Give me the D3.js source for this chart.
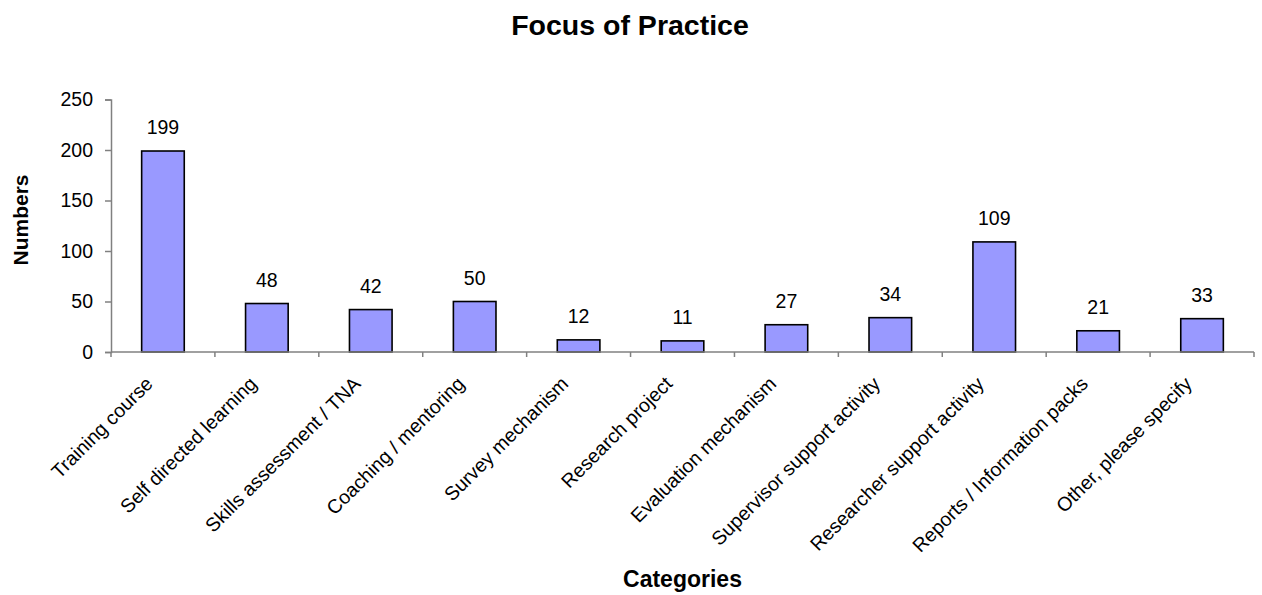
<!DOCTYPE html>
<html>
<head>
<meta charset="utf-8">
<script src="https://cdn.jsdelivr.net/npm/d3@7"></script>
<style>
  body { margin: 0; background: #fff; }
  text { font-family: "Liberation Sans", Arial, sans-serif; fill: #000; }
</style>
</head>
<body>
<div id="chart"></div>
<script>
"use strict";

var categories = ["Training course", "Self directed learning", "Skills assessment / TNA",
    "Coaching / mentoring", "Survey mechanism", "Research project", "Evaluation mechanism",
    "Supervisor support activity", "Researcher support activity", "Reports / Information packs",
    "Other, please specify"];
var values = [199, 48, 42, 50, 12, 11, 27, 34, 109, 21, 33];
var yTicks = [0, 50, 100, 150, 200, 250];

var width = 1262;
var height = 595;
var margin = { left: 111, right: 8, top: 99.5, bottom: 243 };
var fontSize = "19.5px";

var svg = d3.select("#chart").append("svg").attr("width", width).attr("height", height);

var x = d3.scaleBand().domain(categories).range([margin.left, width - margin.right]).padding(0);
var y = d3.scaleLinear().domain([0, 250]).range([height - margin.bottom, margin.top]);
var barWidth = x.bandwidth() * 0.41;

//bars
svg.selectAll("rect.bar").data(values).enter().append("rect").attr("class", "bar")
    .attr("x", function (d, i) { return x(categories[i]) + x.bandwidth() / 2 - barWidth / 2; })
    .attr("y", function (d) { return y(d); })
    .attr("width", barWidth)
    .attr("height", function (d) { return y(0) - y(d); })
    .style("fill", "#9999FF").style("stroke", "#000").style("stroke-width", 1.6);

//value labels
svg.selectAll("text.val").data(values).enter().append("text").attr("class", "val")
    .attr("x", function (d, i) { return x(categories[i]) + x.bandwidth() / 2; })
    .attr("y", function (d) { return y(d) - 17; })
    .attr("text-anchor", "middle").style("font-size", fontSize)
    .text(function (d) { return d; });

//y axis
var yAxis = svg.append("g").attr("transform", "translate(" + margin.left + ",0)")
    .call(d3.axisLeft(y).tickValues(yTicks).tickSize(6).tickPadding(12));
yAxis.selectAll("text").style("font-size", fontSize).style("font-family", "Liberation Sans, Arial, sans-serif");

//x axis: ticks on category boundaries
var xAxis = svg.append("g").attr("transform", "translate(0," + y(0) + ")");
xAxis.append("line").attr("x1", margin.left).attr("x2", width - margin.right);
var bounds = categories.map(function (c) { return x(c); }).concat([width - margin.right]);
xAxis.selectAll("line.tick").data(bounds).enter().append("line").attr("class", "tick")
    .attr("x1", function (d) { return d; }).attr("x2", function (d) { return d; })
    .attr("y1", 0).attr("y2", 5);
xAxis.selectAll("text").data(categories).enter().append("text")
    .attr("transform", function (d) {
        return "translate(" + (x(d) + x.bandwidth() / 2 - 9) + ",33) rotate(-45)";
    })
    .attr("text-anchor", "end").style("font-size", fontSize)
    .text(function (d) { return d; });

svg.selectAll(".domain, g line").style("stroke", "#808080").style("stroke-width", 1.5);

//titles
svg.append("text").attr("x", 630).attr("y", 35).attr("text-anchor", "middle")
    .style("font-size", "28.5px").style("font-weight", "bold").text("Focus of Practice");
svg.append("text").attr("x", (margin.left + width - margin.right) / 2).attr("y", 587)
    .attr("text-anchor", "middle").style("font-size", "23px").style("font-weight", "bold").text("Categories");
svg.append("text").attr("transform", "translate(28,220) rotate(-90)")
    .attr("text-anchor", "middle").style("font-size", "21px").style("font-weight", "bold").text("Numbers");
</script>
</body>
</html>
